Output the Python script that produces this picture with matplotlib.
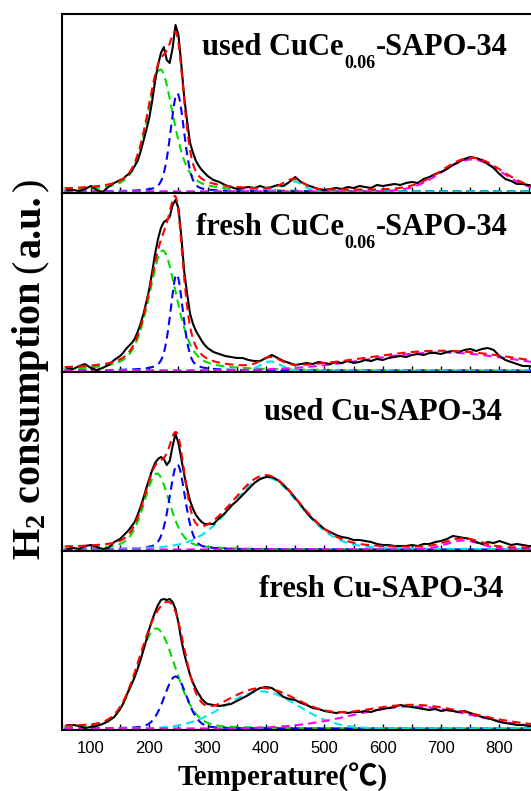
import numpy as np
import matplotlib
matplotlib.use('Agg')
import matplotlib.pyplot as plt
from matplotlib.ticker import MultipleLocator
from matplotlib.transforms import IdentityTransform

plt.rcParams['font.family'] = ['Liberation Sans']
plt.rcParams['mathtext.fontset'] = 'custom'
plt.rcParams['mathtext.rm'] = 'Liberation Serif:bold'
plt.rcParams['mathtext.bf'] = 'Liberation Serif:bold'
plt.rcParams['mathtext.it'] = 'Liberation Serif:bold:italic'

# sampling temperatures of the measured curves (denser around the 200-300 C peaks)
temps = np.r_[60:151:10, 155:301:5, 310:861:10]

# sample names: (main text, subscript, tail)
label_main = ['used CuCe', 'fresh CuCe', 'used Cu-SAPO-34', 'fresh Cu-SAPO-34']
label_sub = ['0.06', '0.06', '', '']
label_tail = ['-SAPO-34', '-SAPO-34', '', '']

# measured H2 signal, arbitrary units, one list per sample
used_cuce = [3, 3, 2, 4, 7, 3, 1, 6, 10, 13,
             14, 17, 19, 22, 27, 32, 41, 52, 63, 75, 92, 112, 128, 140, 146,
             133, 130, 145, 168, 158, 128, 95, 71, 50, 40, 32, 27, 23, 20, 17,
             13, 11, 8, 6, 4, 5, 6, 5, 7, 5,
             6, 8, 7, 11, 16, 11, 8, 6, 4, 3,
             4, 5, 4, 6, 5, 7, 6, 5, 8, 7,
             8, 9, 8, 10, 11, 10, 14, 16, 19, 21,
             24, 28, 31, 34, 36, 35, 33, 29, 25, 19,
             14, 12, 9, 9, 8, 7]
fresh_cuce = [4, 3, 6, 8, 4, 2, 4, 7, 12, 16,
              19, 23, 26, 29, 33, 40, 48, 58, 70, 83, 100, 118, 133, 144, 150,
              152, 155, 167, 172, 164, 135, 100, 78, 58, 48, 41, 36, 31, 27, 24,
              20, 18, 16, 15, 14, 14, 12, 11, 11, 14,
              17, 14, 11, 9, 7, 8, 9, 8, 10, 9,
              8, 10, 9, 11, 9, 10, 12, 11, 13, 12,
              14, 15, 16, 15, 17, 18, 17, 19, 19, 18,
              20, 21, 20, 22, 23, 21, 23, 24, 22, 16,
              12, 10, 8, 6, 6, 5]
used_cu = [2, 3, 2, 5, 6, 4, 2, 3, 9, 12,
           15, 18, 21, 25, 29, 36, 44, 53, 63, 72, 81, 88, 92, 94, 92,
           86, 90, 105, 117, 108, 92, 76, 62, 50, 42, 36, 32, 29, 27, 27,
           27, 33, 38, 45, 50, 56, 62, 68, 72, 74,
           74, 71, 66, 60, 53, 46, 38, 32, 27, 22,
           19, 16, 14, 13, 11, 11, 10, 9, 7, 6,
           6, 5, 5, 5, 6, 5, 7, 7, 9, 10,
           12, 15, 14, 13, 12, 9, 7, 9, 8, 10,
           8, 6, 7, 6, 5, 5]
fresh_cu = [5, 5, 4, 2, 3, 4, 6, 9, 13, 21,
            26, 33, 40, 46, 53, 61, 70, 80, 90, 101, 110, 118, 125, 130, 131,
            130, 131, 128, 121, 107, 90, 76, 65, 55, 47, 41, 36, 31, 28, 26,
            25, 24, 25, 26, 29, 32, 35, 39, 42, 43,
            42, 38, 33, 31, 30, 27, 25, 22, 21, 19,
            18, 17, 18, 17, 18, 18, 19, 18, 20, 21,
            22, 23, 25, 24, 23, 22, 21, 20, 21, 19,
            20, 19, 18, 19, 17, 15, 13, 12, 10, 8,
            7, 6, 5, 5, 4, 4]
measured = [used_cuce, fresh_cuce, used_cu, fresh_cu]

# fitted peaks: centre (C), height, FWHM (C), Lorentzian fraction
green_center = [219, 223, 213, 212]
green_height = [122, 120, 76, 100]
green_fwhm = [54, 58, 53, 78]
green_eta = [0.5, 0.5, 0.4, 0.2]

blue_center = [248, 247, 248, 245]
blue_height = [98, 96, 85, 52]
blue_fwhm = [28, 26, 32, 46]
blue_eta = [0.3, 0.4, 0.3, 0.2]

cyan_center = [447, 408, 400, 392]
cyan_height = [10, 9, 72, 37]
cyan_fwhm = [40, 40, 140, 150]
cyan_eta = [0.0, 0.0, 0.2, 0.0]

magenta_center = [752, 700, 738, 650]
magenta_height = [32, 18, 9, 22]
magenta_fwhm = [120, 300, 70, 240]
magenta_eta = [0.0, 0.0, 0.0, 0.0]

fit_offset = [3, 3, 3, 3]


def pseudo_voigt(t, c, h, w, eta):
    x = (t - c) / (w / 2.0)
    return h * ((1 - eta) * np.exp(-np.log(2) * x ** 2) + eta / (1 + x ** 2))


W, H = 531, 791
left_px = 61.7
top_px = 14
panel_h = 179
fig = plt.figure(figsize=(W / 100, H / 100), dpi=100)
renderer = fig.canvas.get_renderer()
px = IdentityTransform()

t_fit = np.linspace(55, 860, 600)
dash = (4, 2.5)
for i in range(4):
    bottom = H - top_px - panel_h * (i + 1)
    ax = fig.add_axes([left_px / W, bottom / H, (W - left_px) / W, panel_h / H])

    comps = [
        ('#00dd00', pseudo_voigt(t_fit, green_center[i], green_height[i], green_fwhm[i], green_eta[i])),
        ('#0000ff', pseudo_voigt(t_fit, blue_center[i], blue_height[i], blue_fwhm[i], blue_eta[i])),
        ('#00e5ee', pseudo_voigt(t_fit, cyan_center[i], cyan_height[i], cyan_fwhm[i], cyan_eta[i])),
        ('#ff00ff', pseudo_voigt(t_fit, magenta_center[i], magenta_height[i], magenta_fwhm[i], magenta_eta[i])),
    ]
    total = np.zeros_like(t_fit)
    for col, y in comps:
        ax.plot(t_fit, y + 1.5, color=col, lw=1.5, ls=(0, dash))
        total += y
    ax.plot(temps, measured[i], color='black', lw=1.5)
    ax.plot(t_fit, total + fit_offset[i], color='#ff0000', lw=1.5, ls=(0, dash))

    ax.set_xlim(50, 854)
    ax.set_ylim(0, panel_h)
    ax.set_yticks([])
    ax.xaxis.set_major_locator(MultipleLocator(100))
    ax.xaxis.set_minor_locator(MultipleLocator(50))
    ax.tick_params(axis='x', which='both', direction='in', length=4, width=1,
                   top=False, labelbottom=(i == 3), labelsize=12, pad=8)
    ax.spines['right'].set_visible(False)
    for s in ['left', 'top', 'bottom']:
        ax.spines[s].set_linewidth(1.5)

# sample labels, laid out right to left (right end / baseline in pixels)
label_pos = [(508, 55), (508, 235), (502, 420), (503, 597)]
for i, (xr, yb) in enumerate(label_pos):
    x_cur = xr
    pieces = [(label_tail[i], 22, 0), (label_sub[i], 13, -13), (label_main[i], 22, 0)]
    for s, size, dy in pieces:
        if not s:
            continue
        t = fig.text(x_cur, H - yb + dy, s, transform=px, ha='right', va='baseline',
                     fontsize=size, fontweight='bold', family='Liberation Serif')
        x_cur = t.get_window_extent(renderer).x0 - 0.5

fig.text(283, H - 786, 'Temperature(℃)', transform=px, ha='center',
         va='baseline', fontsize=21, fontweight='bold',
         family=['Liberation Serif', 'Noto Sans CJK SC'])

# y label, built from pieces stacked bottom to top
ylab_parts = [('H$_{\\mathbf{2}}$ consumption', 'bold', 7),
              ('(', 'normal', 3),
              ('a.u.', 'bold', 3),
              (')', 'normal', 0)]
y_cur = H - 560
for s, wgt, gap in ylab_parts:
    t = fig.text(40, y_cur, s, transform=px, rotation=90,
                 rotation_mode='anchor', ha='left', va='baseline',
                 fontsize=29, fontweight=wgt, family='Liberation Serif')
    y_cur = t.get_window_extent(renderer).y1 + gap

fig.savefig('out.png', dpi=100)
